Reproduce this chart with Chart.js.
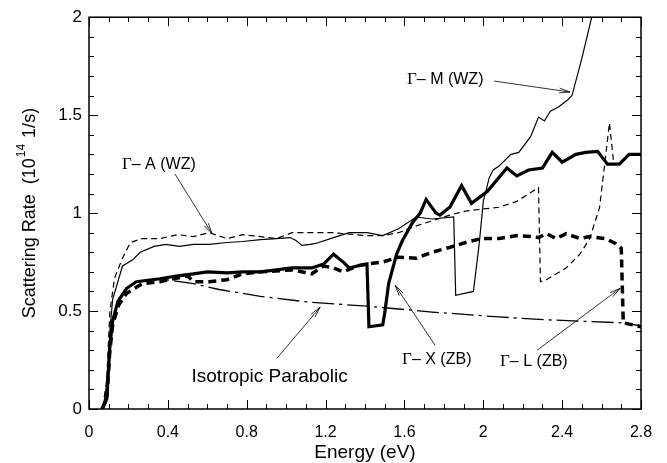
<!DOCTYPE html>
<html>
<head>
<meta charset="utf-8">
<script src="https://cdn.jsdelivr.net/npm/chart.js@4.4.1/dist/chart.umd.min.js"></script>
<style>
    html, body { margin: 0; padding: 0; background: #fff; }
    #wrap { width: 667px; height: 463px; }
</style>
</head>
<body>
<div id="wrap"><canvas id="rateChart" width="667" height="463"></canvas></div>
<script>
// Tick values
const energyTicks = [0, 0.4, 0.8, 1.2, 1.6, 2, 2.4, 2.8];
const rateTicks = [0, 0.5, 1, 1.5, 2];

// Gamma-A (WZ), thin dashed
const gaEnergy = [0.07, 0.09, 0.106, 0.13, 0.17, 0.21, 0.27, 0.36, 0.45, 0.53, 0.61, 0.70, 0.78, 0.87, 0.95, 1.03, 1.10, 1.24, 1.41, 1.49, 1.57, 1.66, 1.74, 1.83, 1.91, 1.99, 2.08, 2.17, 2.28, 2.29, 2.32, 2.42, 2.49, 2.54, 2.59, 2.61, 2.64, 2.66];
const gaRate = [0.01, 0.15, 0.5, 0.67, 0.77, 0.85, 0.87, 0.87, 0.89, 0.88, 0.90, 0.87, 0.89, 0.88, 0.87, 0.90, 0.90, 0.90, 0.885, 0.885, 0.90, 0.935, 0.96, 0.99, 1.01, 1.02, 1.03, 1.06, 1.13, 0.65, 0.66, 0.72, 0.79, 0.87, 1.03, 1.2, 1.46, 1.27];

// Gamma-M (WZ), thin solid
const gmEnergy = [0.07, 0.09, 0.106, 0.12, 0.17, 0.22, 0.26, 0.33, 0.39, 0.46, 0.53, 0.61, 0.70, 0.78, 0.87, 0.95, 1.02, 1.05, 1.08, 1.12, 1.15, 1.24, 1.32, 1.41, 1.49, 1.57, 1.66, 1.74, 1.85, 1.86, 1.95, 1.98, 2.0, 2.03, 2.05, 2.08, 2.14, 2.18, 2.24, 2.28, 2.31, 2.34, 2.38, 2.43, 2.45, 2.50, 2.55];
const gmRate = [0.0, 0.12, 0.4, 0.56, 0.73, 0.76, 0.80, 0.83, 0.84, 0.83, 0.84, 0.84, 0.85, 0.855, 0.865, 0.87, 0.875, 0.86, 0.835, 0.84, 0.845, 0.875, 0.9, 0.9, 0.885, 0.92, 0.98, 0.97, 0.98, 0.58, 0.6, 0.85, 1.06, 1.18, 1.22, 1.24, 1.3, 1.31, 1.39, 1.49, 1.47, 1.52, 1.54, 1.58, 1.60, 1.79, 2.0];

// Gamma-X (ZB), thick solid
const gxEnergy = [0.066, 0.09, 0.106, 0.12, 0.147, 0.19, 0.24, 0.36, 0.45, 0.53, 0.60, 0.70, 0.78, 0.87, 0.95, 1.03, 1.13, 1.19, 1.24, 1.29, 1.32, 1.36, 1.41, 1.42, 1.49, 1.50, 1.52, 1.56, 1.59, 1.64, 1.68, 1.71, 1.76, 1.78, 1.83, 1.89, 1.94, 2.02, 2.07, 2.12, 2.17, 2.23, 2.30, 2.35, 2.40, 2.47, 2.52, 2.58, 2.63, 2.69, 2.74, 2.80];
const gxRate = [0, 0.05, 0.32, 0.45, 0.55, 0.615, 0.65, 0.665, 0.68, 0.69, 0.70, 0.695, 0.70, 0.70, 0.71, 0.72, 0.72, 0.74, 0.79, 0.75, 0.72, 0.73, 0.74, 0.42, 0.43, 0.49, 0.64, 0.79, 0.86, 0.95, 1.0, 1.07, 1.0, 0.99, 1.03, 1.14, 1.05, 1.11, 1.17, 1.23, 1.19, 1.22, 1.23, 1.31, 1.26, 1.30, 1.31, 1.315, 1.25, 1.25, 1.30, 1.30];

// Gamma-L (ZB), thick dashed
const glEnergy = [0.066, 0.09, 0.106, 0.12, 0.15, 0.19, 0.27, 0.36, 0.5, 0.53, 0.61, 0.70, 0.78, 0.87, 1.03, 1.13, 1.19, 1.24, 1.29, 1.36, 1.41, 1.49, 1.57, 1.66, 1.74, 1.83, 1.91, 1.99, 2.08, 2.17, 2.25, 2.28, 2.32, 2.37, 2.42, 2.49, 2.54, 2.62, 2.67, 2.70, 2.71, 2.80];
const glRate = [0, 0.05, 0.3, 0.43, 0.53, 0.59, 0.64, 0.65, 0.68, 0.65, 0.65, 0.66, 0.69, 0.70, 0.71, 0.69, 0.73, 0.72, 0.70, 0.73, 0.74, 0.75, 0.775, 0.77, 0.80, 0.825, 0.85, 0.87, 0.87, 0.885, 0.88, 0.875, 0.895, 0.87, 0.895, 0.87, 0.88, 0.87, 0.845, 0.82, 0.44, 0.42];

// Isotropic parabolic, long dash-dot
const isoEnergy = [0.066, 0.09, 0.106, 0.12, 0.15, 0.19, 0.24, 0.36, 0.53, 0.66, 0.87, 1.12, 1.41, 1.74, 2.08, 2.33, 2.70, 2.80];
const isoRate = [0, 0.05, 0.32, 0.45, 0.55, 0.615, 0.65, 0.665, 0.64, 0.61, 0.575, 0.545, 0.525, 0.495, 0.47, 0.455, 0.44, 0.425];

// Curve labels: [greek prefix, text, font size, x, y] and arrows [x1, y1, x2, y2] in data units
const labelTexts = [
    ['\u0393', '\u2013 A (WZ)', 16, 0.167, 1.25],
    ['\u0393', '\u2013 M (WZ)', 16, 1.613, 1.68],
    ['\u0393', '\u2013 X (ZB)', 16, 1.588, 0.25],
    ['\u0393', '\u2013 L (ZB)', 16, 2.085, 0.24],
    ['', 'Isotropic Parabolic', 19, 0.52, 0.163]
];
const labelArrows = [
    [0.436, 1.20, 0.624, 0.895],
    [2.055, 1.674, 2.44, 1.618],
    [1.755, 0.326, 1.553, 0.631],
    [2.273, 0.30, 2.694, 0.616],
    [0.954, 0.26, 1.172, 0.519]
];

const SANS = '"Liberation Sans", Arial, Helvetica, sans-serif';
const SERIF = '"Liberation Serif", "Times New Roman", serif';

function toPoints(xs, ys) {
    return xs.map((x, i) => ({ x: x, y: ys[i] }));
}

function line(data, width, dash) {
    return {
        data: data,
        borderColor: '#000',
        borderWidth: width,
        borderDash: dash,
        pointRadius: 0,
        tension: 0,
        fill: false
    };
}

function drawArrow(ctx, x1, y1, x2, y2) {
    const ang = Math.atan2(y2 - y1, x2 - x1);
    const len = 11;
    const spread = 0.22;
    ctx.beginPath();
    ctx.moveTo(x1, y1);
    ctx.lineTo(x2, y2);
    ctx.moveTo(x2 - len * Math.cos(ang - spread), y2 - len * Math.sin(ang - spread));
    ctx.lineTo(x2, y2);
    ctx.lineTo(x2 - len * Math.cos(ang + spread), y2 - len * Math.sin(ang + spread));
    ctx.stroke();
}

// Frame, inward ticks, titles and curve labels
const framePlugin = {
    id: 'frame',
    afterDatasetsDraw(chart) {
        const ctx = chart.ctx;
        const area = chart.chartArea;
        const xs = chart.scales.x;
        const ys = chart.scales.y;
        ctx.save();
        ctx.strokeStyle = '#000';
        ctx.lineWidth = 1.5;
        ctx.strokeRect(area.left, area.top, area.right - area.left, area.bottom - area.top);

        ctx.lineWidth = 1;
        ctx.beginPath();
        for (let i = 0; i <= 28; i++) {
            const px = Math.round(xs.getPixelForValue(i / 10)) + 0.5;
            const len = i % 4 === 0 ? 9 : 5;
            ctx.moveTo(px, area.bottom); ctx.lineTo(px, area.bottom - len);
            ctx.moveTo(px, area.top); ctx.lineTo(px, area.top + len);
        }
        for (let i = 0; i <= 20; i++) {
            const py = Math.round(ys.getPixelForValue(i / 10)) + 0.5;
            const len = i % 5 === 0 ? 9 : 5;
            ctx.moveTo(area.left, py); ctx.lineTo(area.left + len, py);
            ctx.moveTo(area.right, py); ctx.lineTo(area.right - len, py);
        }
        ctx.stroke();

        // Curve labels
        ctx.fillStyle = '#000';
        ctx.textBaseline = 'middle';
        ctx.textAlign = 'left';
        labelTexts.forEach(l => {
            let px = xs.getPixelForValue(l[3]);
            const py = ys.getPixelForValue(l[4]);
            if (l[0]) {
                ctx.font = (l[2] + 1) + 'px ' + SERIF;
                ctx.fillText(l[0], px, py);
                px += ctx.measureText(l[0]).width;
            }
            ctx.font = l[2] + 'px ' + SANS;
            ctx.fillText(l[1], px, py);
        });
        ctx.lineWidth = 0.8;
        labelArrows.forEach(a => {
            drawArrow(ctx, xs.getPixelForValue(a[0]), ys.getPixelForValue(a[1]),
                xs.getPixelForValue(a[2]), ys.getPixelForValue(a[3]));
        });

        // Axis titles
        ctx.font = '19px ' + SANS;
        ctx.textAlign = 'center';
        ctx.fillText('Energy (eV)', (area.left + area.right) / 2, 453);

        ctx.translate(30, (area.top + area.bottom) / 2);
        ctx.rotate(-Math.PI / 2);
        const partA = 'Scattering Rate  (10';
        const partB = '14';
        const partC = ' 1/s)';
        ctx.font = '18px ' + SANS;
        const wA = ctx.measureText(partA).width;
        const wC = ctx.measureText(partC).width;
        ctx.font = '12px ' + SANS;
        const wB = ctx.measureText(partB).width + 2;
        let x0 = -(wA + wB + wC) / 2;
        ctx.textAlign = 'left';
        ctx.font = '18px ' + SANS;
        ctx.fillText(partA, x0, 0);
        ctx.font = '12px ' + SANS;
        ctx.fillText(partB, x0 + wA + 1, -8);
        ctx.font = '18px ' + SANS;
        ctx.fillText(partC, x0 + wA + wB, 0);
        ctx.restore();
    }
};

document.addEventListener('DOMContentLoaded', function() {
    const ctx = document.getElementById('rateChart').getContext('2d');
    new Chart(ctx, {
        type: 'line',
        data: {
            datasets: [
                line(toPoints(isoEnergy, isoRate), 1.3, [22, 5, 3, 5]),
                line(toPoints(gaEnergy, gaRate), 1.2, [6, 4]),
                line(toPoints(gmEnergy, gmRate), 1.2, []),
                line(toPoints(glEnergy, glRate), 3.5, [8, 5]),
                line(toPoints(gxEnergy, gxRate), 3.2, [])
            ]
        },
        options: {
            responsive: false,
            animation: false,
            layout: { padding: { top: 16, right: 26, left: 0, bottom: 0 } },
            plugins: {
                legend: { display: false },
                tooltip: { enabled: false }
            },
            scales: {
                x: {
                    type: 'linear',
                    min: 0,
                    max: 2.8,
                    grid: { display: false, drawTicks: false },
                    border: { display: false },
                    afterBuildTicks: scale => { scale.ticks = energyTicks.map(v => ({ value: v })); },
                    afterFit: scale => { scale.height = 54; },
                    ticks: {
                        padding: 14,
                        color: '#000',
                        font: { family: SANS, size: 16 },
                        maxRotation: 0,
                        callback: v => String(v)
                    }
                },
                y: {
                    type: 'linear',
                    min: 0,
                    max: 2,
                    grid: { display: false, drawTicks: false },
                    border: { display: false },
                    afterBuildTicks: scale => { scale.ticks = rateTicks.map(v => ({ value: v })); },
                    afterFit: scale => { scale.width = 89; },
                    ticks: {
                        padding: 7,
                        color: '#000',
                        font: { family: SANS, size: 17 },
                        callback: v => String(v)
                    }
                }
            }
        },
        plugins: [framePlugin]
    });
});
</script>
</body>
</html>
